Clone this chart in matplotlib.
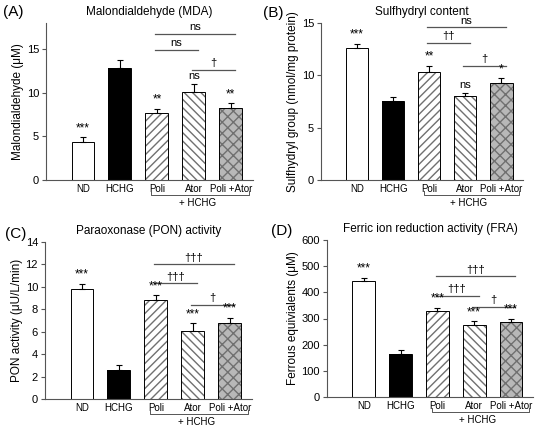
import matplotlib.pyplot as plt
import numpy as np

plt.rcParams['font.family'] = ['Liberation Sans', 'DejaVu Sans']

groups = ['ND', 'HCHG', 'Poli', 'Ator', 'Poli +Ator']

# means and SEM
mda = [4.4, 12.8, 7.7, 10.1, 8.2]
mda_err = [0.5, 0.9, 0.45, 0.9, 0.6]
mda_stars = ['***', '', '**', 'ns', '**']
mda_brackets = [(2, 4, 16.7, 'ns'), (2, 3, 14.9, 'ns'), (3, 4, 12.6, '†')]

sh = [12.6, 7.55, 10.3, 8.05, 9.25]
sh_err = [0.4, 0.4, 0.6, 0.25, 0.45]
sh_stars = ['***', '', '**', 'ns', '*']
sh_brackets = [(2, 4, 14.6, 'ns'), (2, 3, 13.1, '††'), (3, 4, 10.9, '†')]

pon = [9.8, 2.6, 8.85, 6.1, 6.75]
pon_err = [0.45, 0.4, 0.4, 0.65, 0.5]
pon_stars = ['***', '', '***', '***', '***']
pon_brackets = [(2, 4, 12.0, '†††'), (2, 3, 10.3, '†††'), (3, 4, 8.4, '†')]

fra = [443, 163, 328, 275, 287]
fra_err = [12, 15, 12, 14, 12]
fra_stars = ['***', '', '***', '***', '***']
fra_brackets = [(2, 4, 462, '†††'), (2, 3, 386, '†††'), (3, 4, 345, '†')]

fills = ['white', 'black', 'white', 'white', '#b8b8b8']
hatches = [None, None, '////', '\\\\\\\\', 'xxx']

W, H = 550, 428
fig = plt.figure(figsize=(W / 100, H / 100), dpi=100)


def panel(px, vals, errs, stars, brackets, ymax, yticks, letter, lpos, title, ylabel):
    x0, x1, ytop, ybot = px
    ax = fig.add_axes([x0 / W, 1 - ybot / H, (x1 - x0) / W, (ybot - ytop) / H])
    x = np.arange(len(groups))
    w = 0.62
    # hatch layer (gray hatch), then black outline on top
    for i in range(len(groups)):
        ax.bar(x[i], vals[i], w, color=fills[i], edgecolor='#707070',
               hatch=hatches[i], linewidth=0, zorder=2)
        ax.bar(x[i], vals[i], w, color='none', edgecolor='black',
               linewidth=0.7, zorder=3)
    ax.errorbar(x, vals, yerr=[np.zeros(len(errs)), errs], fmt='none',
                ecolor='black', elinewidth=0.8, capsize=2.5, capthick=0.8, zorder=4)
    for i in range(len(groups)):
        if stars[i]:
            ax.text(x[i], vals[i] + errs[i] + 0.02 * ymax, stars[i], ha='center',
                    va='bottom', fontsize=8.5 if stars[i] != 'ns' else 8)
    for a, b, y, lab in brackets:
        ax.plot([a - 0.05, b + 0.12], [y, y], color='#555555', lw=0.9, zorder=1)
        ax.text((a + b) / 2 + 0.03, y + 0.01 * ymax, lab, ha='center', va='bottom',
                fontsize=8)
    ax.set_ylim(0, ymax)
    ax.set_xlim(-1.0, 4.6)
    ax.set_yticks(yticks)
    ax.set_xticks(x)
    ax.set_xticklabels(groups, fontsize=7)
    ax.tick_params(axis='x', length=0, pad=3)
    ax.tick_params(axis='y', labelsize=8, length=3, width=0.8, direction='out',
                   pad=2, color='#555555')
    ax.spines['top'].set_visible(False)
    ax.spines['right'].set_visible(False)
    ax.spines['left'].set_color('#555555')
    ax.spines['bottom'].set_color('#555555')
    ax.set_ylabel(ylabel, fontsize=8.5, labelpad=2)
    ax.set_title(title, fontsize=8.5, pad=5.5)
    # + HCHG bracket under Poli..Poli +Ator
    yb = -0.095 * ymax
    ax.plot([1.85, 1.85, 4.5, 4.5], [yb + 0.025 * ymax, yb, yb, yb + 0.025 * ymax],
            color='#555555', lw=0.7, clip_on=False)
    ax.text(3.1, -0.147 * ymax, '+ HCHG', ha='center', va='center', fontsize=7)
    fig.text(lpos[0] / W, 1 - lpos[1] / H, letter, fontsize=11, va='center', ha='left')
    return ax


panel((46, 253, 22.7, 180), mda, mda_err, mda_stars, mda_brackets,
      18, [0, 5, 10, 15], '(A)', (3, 12), 'Malondialdehyde (MDA)',
      'Malondialdehyde (μM)')
panel((321, 523, 23, 180), sh, sh_err, sh_stars, sh_brackets,
      15, [0, 5, 10, 15], '(B)', (263, 13), 'Sulfhydryl content',
      'Sulfhydryl group (nmol/mg protein)')
panel((45, 252, 242, 399), pon, pon_err, pon_stars, pon_brackets,
      14, [0, 2, 4, 6, 8, 10, 12, 14], '(C)', (5, 234), 'Paraoxonase (PON) activity',
      'PON activity (μU/L/min)')
panel((327, 533, 240, 397), fra, fra_err, fra_stars, fra_brackets,
      600, [0, 100, 200, 300, 400, 500, 600], '(D)', (271, 231),
      'Ferric ion reduction activity (FRA)', 'Ferrous equivialents (μM)')

fig.savefig('out.png', dpi=100)
